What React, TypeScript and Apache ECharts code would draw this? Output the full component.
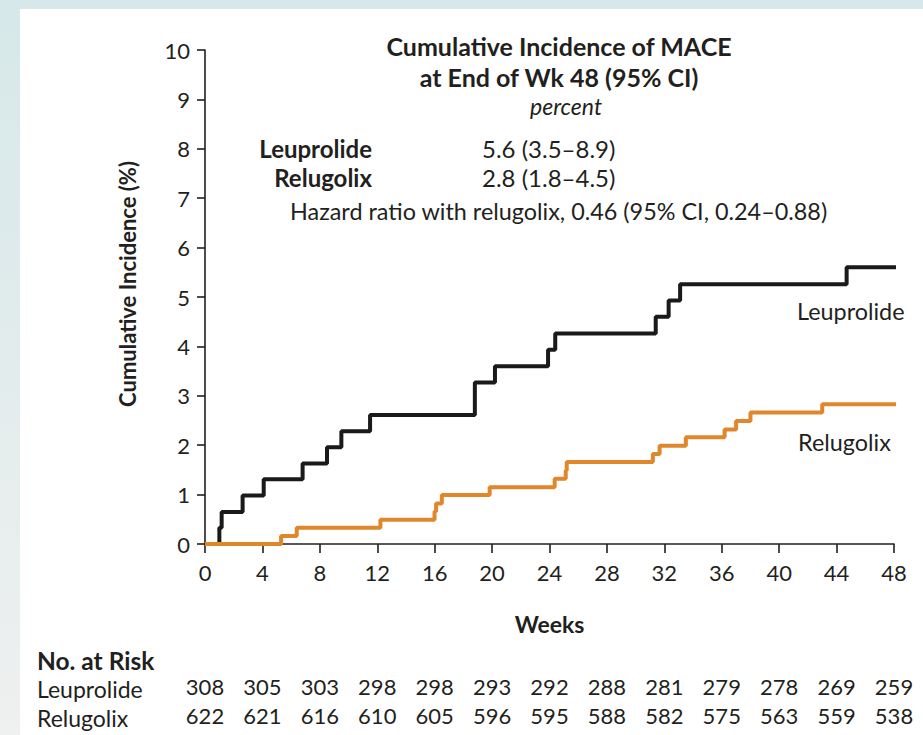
import React, { useEffect, useRef } from "react";
import * as echarts from "echarts";

// ---- Data ----
const weekTicks = [0, 4, 8, 12, 16, 20, 24, 28, 32, 36, 40, 44, 48];
const leuprolideRisk = [308, 305, 303, 298, 298, 293, 292, 288, 281, 279, 278, 269, 259];
const relugolixRisk = [622, 621, 616, 610, 605, 596, 595, 588, 582, 575, 563, 559, 538];

// [week, cumulative incidence %]
const leuprolideCurve: [number, number][] = [
  [0, 0], [1.0, 0.33], [1.16, 0.65], [2.62, 0.98], [4.09, 1.31], [6.8, 1.63],
  [8.5, 1.96], [9.5, 2.28], [11.5, 2.61], [18.8, 3.27], [20.2, 3.6], [23.9, 3.93],
  [24.4, 4.26], [31.4, 4.6], [32.3, 4.93], [33.1, 5.26], [44.7, 5.6], [48.6, 5.6],
];
const relugolixCurve: [number, number][] = [
  [0, 0], [5.3, 0.16], [6.39, 0.33], [12.22, 0.49], [15.99, 0.66], [16.1, 0.82],
  [16.5, 0.99], [19.83, 1.15], [24.36, 1.32], [25.13, 1.49], [25.2, 1.66],
  [31.2, 1.82], [31.67, 1.99], [33.5, 2.16], [36.2, 2.32], [37.0, 2.49],
  [38.0, 2.66], [43.0, 2.83], [48.7, 2.83],
];

const FONT = "Lato, 'Open Sans', sans-serif";
const INK = "#231f20";
const BLACK_LINE = "#1a1a1a";
const ORANGE_LINE = "#e0872c";

export default function App() {
  const ref = useRef<HTMLDivElement>(null);

  useEffect(() => {
    if (!ref.current) return;
    const chart = echarts.init(ref.current, null, { renderer: "svg" });
    const txt = (text: string, x: number, y: number, opts: any = {}, extra: any = {}) => ({
      type: "text",
      x,
      y,
      z: 10,
      ...extra,
      style: {
        text,
        fill: INK,
        fontFamily: FONT,
        fontSize: 23,
        textAlign: "left",
        textVerticalAlign: "middle",
        ...opts,
      },
    });
    const riskAxis = (values: number[], offset: number) => ({
      type: "value",
      gridIndex: 0,
      position: "bottom",
      offset,
      min: 0,
      max: 48,
      interval: 4,
      axisLine: { show: false },
      axisTick: { show: false },
      splitLine: { show: false },
      axisLabel: {
        color: INK,
        fontFamily: FONT,
        fontSize: 22,
        margin: 10,
        formatter: (v: number) => String(values[Math.round(v / 4)] ?? ""),
      },
    });

    chart.setOption({
      animation: false,
      backgroundColor: {
        type: "linear",
        x: 0, y: 0, x2: 0, y2: 1,
        colorStops: [
          { offset: 0, color: "#d6e8e9" },
          { offset: 1, color: "#eff0f0" },
        ],
      },
      grid: { left: 205, right: 29, top: 50, bottom: 191 },
      xAxis: [
        {
          type: "value",
          min: 0,
          max: 48,
          interval: 4,
          name: "Weeks",
          nameLocation: "middle",
          nameGap: 68,
          nameTextStyle: { color: INK, fontFamily: FONT, fontSize: 23, fontWeight: "bold" },
          axisLine: { show: true, lineStyle: { color: INK, width: 1.6 } },
          axisTick: { show: true, inside: false, length: 9, lineStyle: { color: INK, width: 1.6 } },
          splitLine: { show: false },
          axisLabel: { color: INK, fontFamily: FONT, fontSize: 22, margin: 17 },
        },
        riskAxis(leuprolideRisk, 121),
        riskAxis(relugolixRisk, 150),
      ],
      yAxis: {
        type: "value",
        min: 0,
        max: 10,
        interval: 1,
        axisLine: { show: true, lineStyle: { color: INK, width: 1.6 } },
        axisTick: { show: true, inside: false, length: 8, lineStyle: { color: INK, width: 1.6 } },
        splitLine: { show: false },
        axisLabel: { color: INK, fontFamily: FONT, fontSize: 22, margin: 15 },
      },
      series: [
        {
          name: "Leuprolide",
          type: "line",
          step: "end",
          data: leuprolideCurve,
          showSymbol: false,
          clip: false,
          lineStyle: { color: BLACK_LINE, width: 4 },
          z: 3,
        },
        {
          name: "Relugolix",
          type: "line",
          step: "end",
          data: relugolixCurve,
          showSymbol: false,
          clip: false,
          lineStyle: { color: ORANGE_LINE, width: 4 },
          z: 4,
        },
      ],
      graphic: [
        {
          type: "rect",
          z: -100,
          silent: true,
          shape: { x: 20, y: 9, width: 903, height: 726 },
          style: { fill: "#ffffff" },
        },
        txt("Cumulative Incidence (%)", 127, 284,
          { fontWeight: "bold", fontSize: 22, textAlign: "center" },
          { rotation: Math.PI / 2 }),
        txt("Cumulative Incidence of MACE", 559, 46, { fontWeight: "bold", fontSize: 25, textAlign: "center" }),
        txt("at End of Wk 48 (95% CI)", 559, 77, { fontWeight: "bold", fontSize: 25, textAlign: "center" }),
        txt("percent", 566, 106, { fontStyle: "italic", textAlign: "center" }),
        txt("Leuprolide", 372, 148, { fontWeight: "bold", fontSize: 24, textAlign: "right" }),
        txt("Relugolix", 372, 177, { fontWeight: "bold", fontSize: 24, textAlign: "right" }),
        txt("5.6 (3.5–8.9)", 482, 148, { fontSize: 24 }),
        txt("2.8 (1.8–4.5)", 482, 177, { fontSize: 24 }),
        txt("Hazard ratio with relugolix, 0.46 (95% CI, 0.24–0.88)", 290, 211, { fontSize: 23.4 }),
        txt("Leuprolide", 797, 311, { fontSize: 23.4 }),
        txt("Relugolix", 798, 442, { fontSize: 23.4 }),
        txt("No. at Risk", 37, 660, { fontWeight: "bold", fontSize: 24.5 }),
        txt("Leuprolide", 37, 689),
        txt("Relugolix", 37, 718),
      ],
    });
    return () => chart.dispose();
  }, []);

  return (
    <div
      ref={ref}
      style={{ position: "fixed", left: 0, top: 0, width: 923, height: 735 }}
    />
  );
}
